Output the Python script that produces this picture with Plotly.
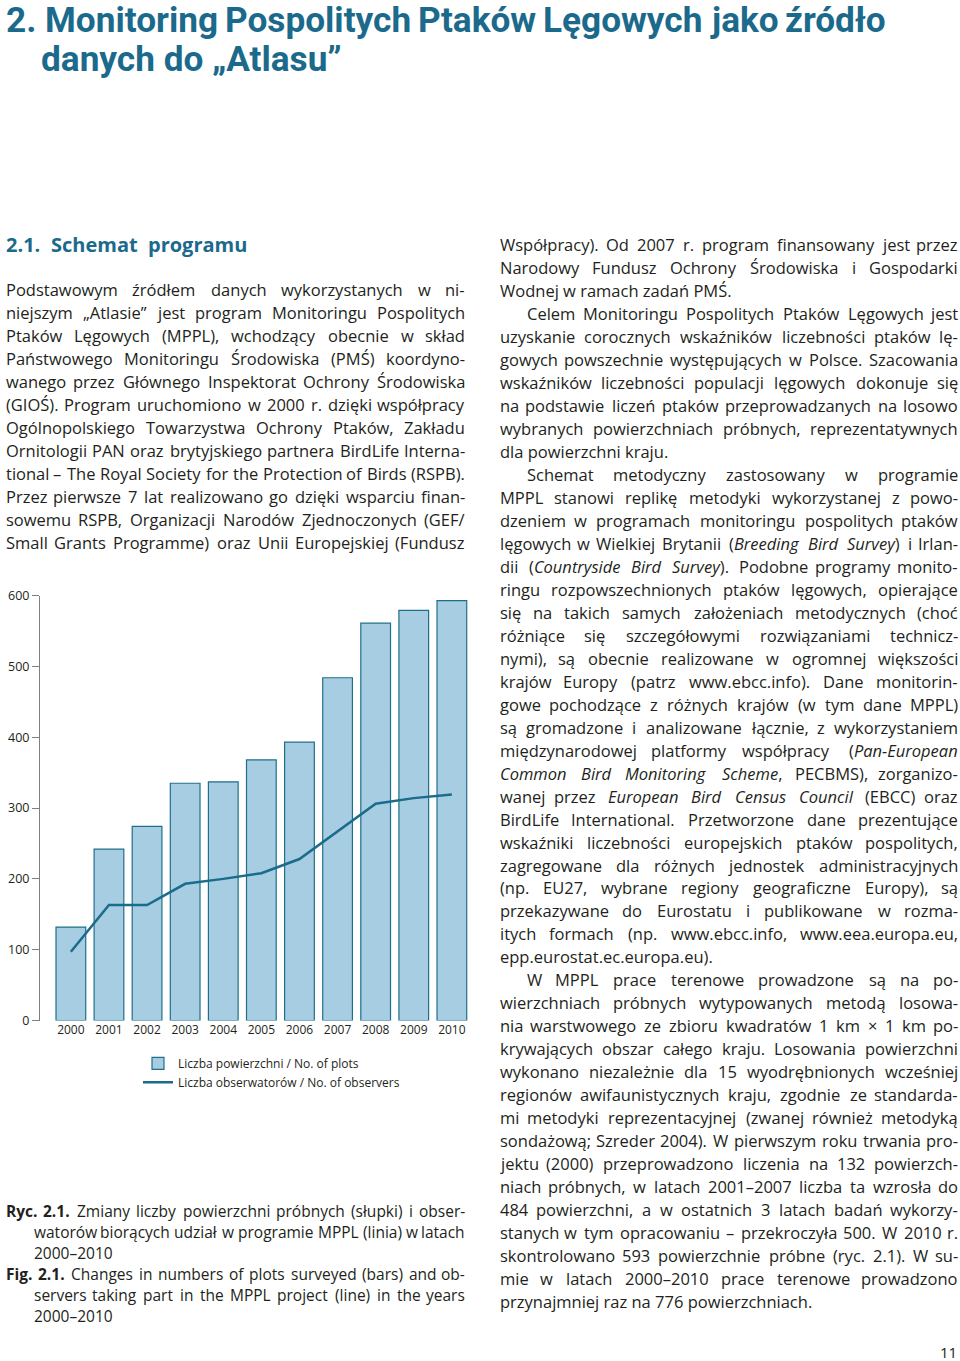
import re
import plotly.graph_objects as go

# ---------------- data ----------------
years = [2000, 2001, 2002, 2003, 2004, 2005, 2006, 2007, 2008, 2009, 2010]
plots = [132, 242, 274, 335, 337, 368, 393, 484, 561, 579, 593]
observers = [97, 163, 163, 193, 200, 208, 228, 267, 306, 314, 319]
y_ticks = [0, 100, 200, 300, 400, 500, 600]
legend_plots = "Liczba powierzchni / No. of plots"
legend_obs = "Liczba obserwatorów / No. of observers"

title_lines = ["2. Monitoring Pospolitych Ptaków Lęgowych jako źródło",
               "danych do „Atlasu”"]
section = "2.1. Schemat programu"

left_lines = [
    ("Podstawowym źródłem danych wykorzystanych w ni-", True, False),
    ("niejszym „Atlasie” jest program Monitoringu Pospolitych", True, False),
    ("Ptaków Lęgowych (MPPL), wchodzący obecnie w skład", True, False),
    ("Państwowego Monitoringu Środowiska (PMŚ) koordyno-", True, False),
    ("wanego przez Głównego Inspektorat Ochrony Środowiska", True, False),
    ("(GIOŚ). Program uruchomiono w 2000 r. dzięki współpracy", True, False),
    ("Ogólnopolskiego Towarzystwa Ochrony Ptaków, Zakładu", True, False),
    ("Ornitologii PAN oraz brytyjskiego partnera BirdLife Interna-", True, False),
    ("tional – The Royal Society for the Protection of Birds (RSPB).", True, False),
    ("Przez pierwsze 7 lat realizowano go dzięki wsparciu finan-", True, False),
    ("sowemu RSPB, Organizacji Narodów Zjednoczonych (GEF/", True, False),
    ("Small Grants Programme) oraz Unii Europejskiej (Fundusz", True, False),
]

right_lines = [
    ("Współpracy). Od 2007 r. program finansowany jest przez", True, False),
    ("Narodowy Fundusz Ochrony Środowiska i Gospodarki", True, False),
    ("Wodnej w ramach zadań PMŚ.", False, False),
    ("Celem Monitoringu Pospolitych Ptaków Lęgowych jest", True, True),
    ("uzyskanie corocznych wskaźników liczebności ptaków lę-", True, False),
    ("gowych powszechnie występujących w Polsce. Szacowania", True, False),
    ("wskaźników liczebności populacji lęgowych dokonuje się", True, False),
    ("na podstawie liczeń ptaków przeprowadzanych na losowo", True, False),
    ("wybranych powierzchniach próbnych, reprezentatywnych", True, False),
    ("dla powierzchni kraju.", False, False),
    ("Schemat metodyczny zastosowany w programie", True, True),
    ("MPPL stanowi replikę metodyki wykorzystanej z powo-", True, False),
    ("dzeniem w programach monitoringu pospolitych ptaków", True, False),
    ("lęgowych w Wielkiej Brytanii (<i>Breeding</i> <i>Bird</i> <i>Survey</i>) i Irlan-", True, False),
    ("dii (<i>Countryside</i> <i>Bird</i> <i>Survey</i>). Podobne programy monito-", True, False),
    ("ringu rozpowszechnionych ptaków lęgowych, opierające", True, False),
    ("się na takich samych założeniach metodycznych (choć", True, False),
    ("różniące się szczegółowymi rozwiązaniami technicz-", True, False),
    ("nymi), są obecnie realizowane w ogromnej większości", True, False),
    ("krajów Europy (patrz www.ebcc.info). Dane monitorin-", True, False),
    ("gowe pochodzące z różnych krajów (w tym dane MPPL)", True, False),
    ("są gromadzone i analizowane łącznie, z wykorzystaniem", True, False),
    ("międzynarodowej platformy współpracy (<i>Pan-European</i>", True, False),
    ("<i>Common</i> <i>Bird</i> <i>Monitoring</i> <i>Scheme</i>, PECBMS), zorganizo-", True, False),
    ("wanej przez <i>European</i> <i>Bird</i> <i>Census</i> <i>Council</i> (EBCC) oraz", True, False),
    ("BirdLife International. Przetworzone dane prezentujące", True, False),
    ("wskaźniki liczebności europejskich ptaków pospolitych,", True, False),
    ("zagregowane dla różnych jednostek administracyjnych", True, False),
    ("(np. EU27, wybrane regiony geograficzne Europy), są", True, False),
    ("przekazywane do Eurostatu i publikowane w rozma-", True, False),
    ("itych formach (np. www.ebcc.info, www.eea.europa.eu,", True, False),
    ("epp.eurostat.ec.europa.eu).", False, False),
    ("W MPPL prace terenowe prowadzone są na po-", True, True),
    ("wierzchniach próbnych wytypowanych metodą losowa-", True, False),
    ("nia warstwowego ze zbioru kwadratów 1 km × 1 km po-", True, False),
    ("krywających obszar całego kraju. Losowania powierzchni", True, False),
    ("wykonano niezależnie dla 15 wyodrębnionych wcześniej", True, False),
    ("regionów awifaunistycznych kraju, zgodnie ze standarda-", True, False),
    ("mi metodyki reprezentacyjnej (zwanej również metodyką", True, False),
    ("sondażową; Szreder 2004). W pierwszym roku trwania pro-", True, False),
    ("jektu (2000) przeprowadzono liczenia na 132 powierzch-", True, False),
    ("niach próbnych, w latach 2001–2007 liczba ta wzrosła do", True, False),
    ("484 powierzchni, a w ostatnich 3 latach badań wykorzy-", True, False),
    ("stanych w tym opracowaniu – przekroczyła 500. W 2010 r.", True, False),
    ("skontrolowano 593 powierzchnie próbne (ryc. 2.1). W su-", True, False),
    ("mie w latach 2000–2010 prace terenowe prowadzono", True, False),
    ("przynajmniej raz na 776 powierzchniach.", False, False),
]

caption_lines = [
    ("<b>Ryc.</b> <b>2.1.</b> Zmiany liczby powierzchni próbnych (słupki) i obser-", True, False),
    ("watorów biorących udział w programie MPPL (linia) w latach", True, True),
    ("2000–2010", False, True),
    ("<b>Fig.</b> <b>2.1.</b> Changes in numbers of plots surveyed (bars) and ob-", True, False),
    ("servers taking part in the MPPL project (line) in the years", True, True),
    ("2000–2010", False, True),
]
page_number = "11"

# ---------------- styles ----------------
W, H = 960, 1361
TEAL = "#1b6a8c"
TEXT = "#231f20"
BODY_FONT = "Open Sans"
TITLE_FONT = "Roboto"

# the page is photographed with a small vertical offset/scale; positions below are
# given in picture pixels and converted to figure-paper coordinates here
OFF, SC = 9.0, 0.9877


def PY(py):
    return 1 - ((py - OFF) / SC) / H


CW = dict(a=.556, b=.613, c=.48, d=.613, e=.561, f=.336, g=.546, h=.613, i=.258,
          j=.258, k=.529, l=.258, m=.933, n=.613, o=.602, p=.613, q=.613, r=.408,
          s=.479, t=.352, u=.613, v=.501, w=.778, x=.517, y=.501, z=.468,
          A=.633, B=.647, C=.631, D=.729, E=.556, F=.516, G=.728, H=.738, I=.279,
          J=.267, K=.614, L=.519, M=.903, N=.754, O=.779, P=.603, Q=.779, R=.618,
          S=.549, T=.553, U=.728, V=.593, W=.925, X=.577, Y=.56, Z=.571)
CW.update({" ": .26, ".": .266, ",": .246, ";": .266, ":": .266, "(": .296, ")": .296,
           "-": .322, "–": .5, "/": .371, "„": .41, "”": .41, "×": .572})
BASE = {"ą": "a", "ć": "c", "ę": "e", "ł": "l", "ń": "n", "ó": "o", "ś": "s", "ź": "z",
        "ż": "z", "Ś": "S", "Ł": "L", "Ż": "Z", "Ź": "Z", "Ó": "O"}


def est(word, size, scale=1.0):
    bold = "<b>" in word
    plain = re.sub(r"<[^>]+>", "", word)
    tot = 0.0
    for ch in plain:
        ch = BASE.get(ch, ch)
        if ch.isdigit():
            tot += .572
        else:
            tot += CW.get(ch, .56)
    return tot * size * scale * (1.08 if bold else 1.0)


annotations = []


def ann(text, x, y, anchor, size, family=BODY_FONT, color=TEXT):
    annotations.append(dict(text=text, x=x / W, y=PY(y), xref="paper", yref="paper",
                            xanchor=anchor, yanchor="middle", showarrow=False,
                            borderpad=0, font=dict(family=family, size=size, color=color)))


def line(text, y, L, R, size, justify, family=BODY_FONT, color=TEXT, scale=1.0):
    words = [w for w in text.split(" ") if w]
    if not justify or len(words) < 2:
        ann(text, L, y, "left", size, family, color)
        return
    ws = [est(w, size, scale) for w in words]
    gap = (R - L - sum(ws)) / (len(words) - 1)
    x = L
    for k, (w, wd) in enumerate(zip(words, ws)):
        if k == 0:
            ann(w, L, y, "left", size, family, color)
        elif k == len(words) - 1:
            ann(w, R, y, "right", size, family, color)
        else:
            ann(w, x + wd / 2, y, "center", size, family, color)
        x += wd + gap


def bold_words(s):
    return "<b>" + s.replace(" ", "</b> <b>") + "</b>"


# title: bold, size chosen so that line 1 spans the reference width
t1 = bold_words(title_lines[0])
c1 = 0.87
natural = sum(est(w, 1.0, c1) for w in t1.split(" ")) + 0.25 * (len(t1.split(" ")) - 1)
tsize = 0.97 * (887 - 5) / natural
line(t1, 20, 5, 887, tsize, True, TITLE_FONT, TEAL, c1)
line(bold_words(title_lines[1]), 59, 40, 338, tsize, False, TITLE_FONT, TEAL, c1)
line(bold_words(section), 245, 5, 248, 20, True, BODY_FONT, TEAL)

for k, (t, j, ind) in enumerate(left_lines):
    line(t, 290 + k * 22.97, 5, 466, 16.5, j)
for k, (t, j, ind) in enumerate(right_lines):
    line(t, 245 + k * 22.97, 526 if ind else 499, 959, 16.5, j)
for k, (t, j, ind) in enumerate(caption_lines):
    line(t, 1211 + k * 21, 33 if ind else 5, 466, 15.5, j)
ann(page_number, 958, 1352, "right", 15)

# ---------------- chart ----------------
fig = go.Figure()
fig.add_trace(go.Bar(x=years, y=plots, width=0.78, name=legend_plots,
                     marker=dict(color="#a7cde3", line=dict(color="#1f6f8b", width=1.2))))
fig.add_trace(go.Scatter(x=years, y=observers, mode="lines", name=legend_obs,
                         line=dict(color="#1b6b8b", width=2.5)))

fig.update_layout(
    width=W, height=H, margin=dict(l=0, r=0, t=0, b=0),
    paper_bgcolor="white", plot_bgcolor="white",
    font=dict(family=BODY_FONT, color=TEXT),
    annotations=annotations,
    showlegend=True,
    legend=dict(x=138 / W, y=1 - 1053 / H, xanchor="left", yanchor="top",
                font=dict(size=12, family=BODY_FONT, color=TEXT),
                itemwidth=30, tracegroupgap=0, bgcolor="rgba(0,0,0,0)"),
    xaxis=dict(domain=[40 / W, 470 / W], range=[1999.19, 2010.476], tickmode="array",
               tickvals=years, ticktext=[str(y) for y in years], showline=False,
               showgrid=False, zeroline=False, ticks="", tickfont=dict(size=12)),
    yaxis=dict(domain=[PY(1020.7), PY(595.7)], range=[0, 600], tickvals=y_ticks,
               showline=True, linecolor="#808080", linewidth=1, ticks="outside",
               ticklen=7, tickcolor="#808080", showgrid=False, zeroline=False,
               tickfont=dict(size=12.5)),
)
fig.write_html("out.html", config={"displayModeBar": False},
               post_script="document.body.style.margin='0px';"
                           "document.body.style.padding='0px';"
                           "document.documentElement.style.overflow='hidden';"
                           "var gd=document.getElementById('{plot_id}');"
                           "gd.style.position='absolute';gd.style.top='0px';"
                           "gd.style.left='0px';")
